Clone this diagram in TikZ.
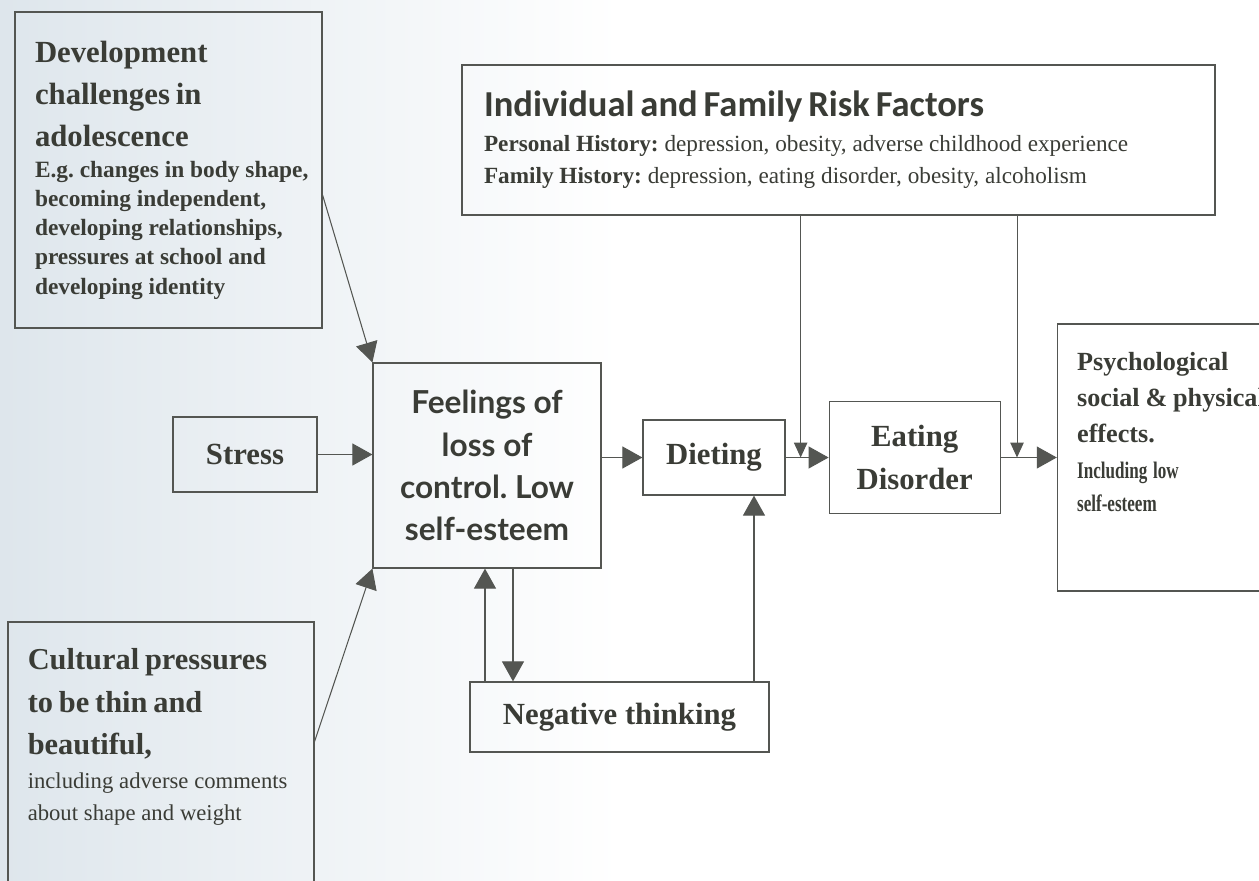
\documentclass[tikz,border=0pt]{standalone}
\usepackage{fontspec}
\setmainfont{Liberation Serif}
\newfontfamily\calibfont{Carlito}
\newfontfamily\latofont{Lato}
\newfontfamily\narrowserif[FakeStretch=0.72]{Liberation Serif}
\usetikzlibrary{arrows.meta, positioning, calc}
\definecolor{InkGrey}{RGB}{58,60,54}
\definecolor{LineGrey}{RGB}{84,86,82}
\definecolor{PaperBlue}{RGB}{222,230,236}
\frenchspacing

\begin{document}
\begin{tikzpicture}[x=0.02cm, y=-0.02cm,
  box/.style={draw=LineGrey, line width=0.7pt, text=InkGrey,
              inner sep=0pt, align=center},
  blurb/.style={text=InkGrey, inner sep=0pt, anchor=north west, align=left},
  arr/.style={-{Triangle[length=0.4cm, width=0.44cm]}, LineGrey, line width=0.6pt},
  smallarr/.style={-{Triangle[length=0.3cm, width=0.27cm]}, LineGrey, line width=0.6pt},
  ttl/.style={font=\fontsize{17.5}{24}\selectfont\bfseries},
]
% paper
\fill[white] (0,0) rectangle (1259,880);
\shade[left color=PaperBlue, right color=white] (0,0) rectangle (620,880);
\useasboundingbox (0,0) rectangle (1259,880);

% boxes
\node[box, minimum width=6.14cm, minimum height=6.32cm, text width=6.14cm,
      align=left] (dev) at (168.5,170)
  {\leftskip=0.4cm
   {\fontsize{17.5}{21}\selectfont\bfseries Development\\[3pt]challenges in\\[3pt]adolescence\par}
   \vskip 1pt
   {\fontsize{13.3}{16.6}\selectfont\bfseries E.g. changes in body shape,\\
    becoming independent,\\ developing relationships,\\
    pressures at school and\\ developing identity\par}};
\node[box, ttl, minimum width=2.88cm, minimum height=1.5cm] (stress) at (245,454.5) {Stress};
\node[box, minimum width=4.56cm, minimum height=4.1cm,
      font=\latofont\fontsize{18}{24}\selectfont\bfseries] (feel) at (487,465.5)
  {Feelings of\\loss of\\control. Low\\self-esteem};
\node[box, ttl, minimum width=2.84cm, minimum height=1.5cm] (diet) at (714,457.5) {Dieting};
\node[box, ttl, minimum width=3.42cm, minimum height=2.24cm,
      right=0.86cm of diet] (eat) {Eating\\Disorder};
\node[box, minimum width=5.2cm, minimum height=5.34cm, right=1.12cm of eat] (psych) {};
\node[blurb, text width=4.6cm] (psychtext) at ([shift={(0.4cm,-0.58cm)}]psych.north west)
  {{\fontsize{14.9}{20.5}\selectfont\bfseries Psychological\\social \& physical\\effects.\par}
   \vskip 1pt
   {\narrowserif\fontsize{13.5}{19}\selectfont\bfseries Including low\\self-esteem\par}};
\node[box, minimum width=15.06cm, minimum height=3cm, text width=14.18cm,
      align=left] (risk) at (838.5,140)
  {{\calibfont\fontsize{20.8}{24}\selectfont\bfseries Individual and Family Risk Factors\par}
   \vskip 1pt
   {\fontsize{13.2}{18.5}\selectfont\textbf{Personal History:} depression, obesity, adverse childhood experience\\
    \textbf{Family History:} depression, eating disorder, obesity, alcoholism\par}};
\node[box, ttl, minimum width=5.98cm, minimum height=1.4cm] (neg) at (619.5,717) {Negative thinking};
\node[box, minimum width=6.12cm, minimum height=5.96cm] (cult) at (161,771) {};
\node[blurb, text width=5.6cm] (culttext) at ([shift={(0.4cm,-0.54cm)}]cult.north west)
  {{\fontsize{17.3}{21}\selectfont\bfseries Cultural pressures\\[3pt]to be thin and\\[3pt]beautiful,\par}
   \vskip 1pt
   {\fontsize{12.9}{18.5}\selectfont including adverse comments\\about shape and weight\par}};

% connectors
\coordinate (jd) at ($(diet.east)!0.35!(eat.west)$);
\coordinate (jp) at ($(eat.east)!0.29!(psych.west)$);
\draw[arr] ([yshift=-0.5cm]dev.east) -- (feel.north west);
\draw[arr] ([yshift=-2.4cm]cult.north east) -- (feel.south west);
\draw[arr] (stress.east) -- (stress.east -| feel.west);
\draw[arr] (feel.east |- diet.west) -- (diet.west);
\draw[arr] (diet.east) -- (eat.west);
\draw[arr] (eat.east) -- (psych.west);
\draw[smallarr] (risk.south -| jd) -- (jd);
\draw[smallarr] (risk.south -| jp) -- (jp);
\draw[arr] ([xshift=-0.04cm]feel.south |- neg.north) -- ([xshift=-0.04cm]feel.south);
\draw[arr] ([xshift=0.52cm]feel.south) -- ([xshift=0.52cm]feel.south |- neg.north);
\draw[arr] ([xshift=0.8cm]diet.south |- neg.north) -- ([xshift=0.8cm]diet.south);
\end{tikzpicture}
\end{document}
